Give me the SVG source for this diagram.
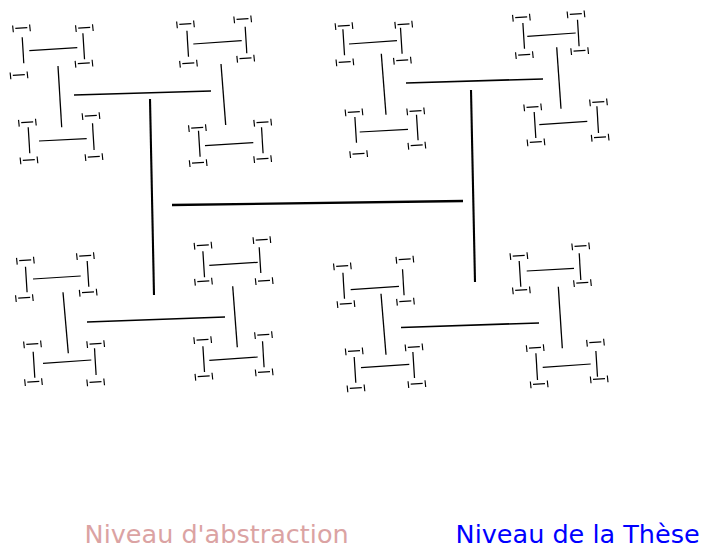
<svg xmlns="http://www.w3.org/2000/svg" xmlns:xlink="http://www.w3.org/1999/xlink" width="704" height="546" viewBox="0 0 704 546">
<style>
line{stroke:#000;stroke-linecap:butt;fill:none}
.l0{stroke-width:2.3}
.l1{stroke-width:2.1}
.l2{stroke-width:1.7}
.l3{stroke-width:1.3}
.l4{stroke-width:1.25}
.t line{stroke-width:1.15}
.lab{font-family:"DejaVu Sans",sans-serif;font-size:25.5px}
</style>
<defs>
<g id="t" class="t" transform="rotate(-3.5)">
<line x1="-8.5" y1="-3" x2="-8.2" y2="3.8"/>
<line x1="-6" y1="0" x2="6" y2="0"/>
<line x1="8.5" y1="-3" x2="8.8" y2="3.8"/>
</g>
</defs>
<rect width="704" height="546" fill="#fff"/>
<g id="connectors">
<g id="level0"><line class="l0" x1="172" y1="205" x2="463" y2="201"/></g>
<g id="level1">
<line class="l1" x1="150" y1="99" x2="154" y2="295"/>
<line class="l1" x1="471" y1="90" x2="475" y2="282"/>
</g>
<g id="level2">
<line class="l2" x1="74" y1="95" x2="211" y2="91"/>
<line class="l2" x1="406" y1="83" x2="543" y2="79"/>
<line class="l2" x1="87" y1="322" x2="225" y2="317"/>
<line class="l2" x1="401" y1="327.5" x2="539" y2="323"/>
</g>
<g id="level3">
<line class="l3" x1="58" y1="66" x2="61.7" y2="127.3"/>
<line class="l3" x1="221" y1="64" x2="225.7" y2="125"/>
<line class="l3" x1="381.3" y1="53.7" x2="386" y2="114.7"/>
<line class="l3" x1="556.7" y1="47.3" x2="561" y2="108.7"/>
<line class="l3" x1="63" y1="292.3" x2="68.3" y2="353.3"/>
<line class="l3" x1="232.7" y1="286.3" x2="237.3" y2="347.3"/>
<line class="l3" x1="381" y1="293.7" x2="386" y2="354.7"/>
<line class="l3" x1="558.3" y1="286.7" x2="562.3" y2="348.3"/>
</g>
</g>
<g id="B1"><line class="l4" x1="22.2" y1="37.3" x2="23.8" y2="63.3"/><line class="l4" x1="29.3" y1="50.7" x2="77.3" y2="47.7"/><line class="l4" x1="82.9" y1="33.3" x2="84.5" y2="59.3"/>
<use href="#t" x="21.3" y="28"/><use href="#t" x="84.2" y="27.7"/><use href="#t" x="18.8" y="75"/><use href="#t" x="83.8" y="63.3"/></g>
<g id="B2"><line class="l4" x1="28.2" y1="127.3" x2="29.8" y2="153.3"/><line class="l4" x1="39" y1="141" x2="86.7" y2="138.7"/><line class="l4" x1="92.5" y1="123.3" x2="94.1" y2="150"/>
<use href="#t" x="27.2" y="122.3"/><use href="#t" x="90.8" y="115.7"/><use href="#t" x="28.8" y="160"/><use href="#t" x="93.8" y="156.7"/></g>
<g id="B3"><line class="l4" x1="186.9" y1="30.7" x2="188.5" y2="56.7"/><line class="l4" x1="193.3" y1="44" x2="241.7" y2="40.7"/><line class="l4" x1="245.2" y1="26.7" x2="246.8" y2="53.3"/>
<use href="#t" x="185.3" y="24"/><use href="#t" x="242.5" y="19"/><use href="#t" x="188.3" y="63.3"/><use href="#t" x="245.5" y="58.3"/></g>
<g id="B4"><line class="l4" x1="198.5" y1="130.7" x2="200.1" y2="156.7"/><line class="l4" x1="205" y1="145.7" x2="253.3" y2="142.7"/><line class="l4" x1="261.5" y1="127.3" x2="263.1" y2="153.3"/>
<use href="#t" x="197.2" y="127.7"/><use href="#t" x="262.5" y="122.3"/><use href="#t" x="198" y="162.7"/><use href="#t" x="262.5" y="158.7"/></g>
<g id="B5"><line class="l4" x1="342.9" y1="29.3" x2="344.5" y2="55.3"/><line class="l4" x1="349" y1="44" x2="397" y2="40.7"/><line class="l4" x1="400.5" y1="27.7" x2="402.1" y2="53.7"/>
<use href="#t" x="343.8" y="25.7"/><use href="#t" x="403.5" y="24.3"/><use href="#t" x="344.7" y="62"/><use href="#t" x="402.2" y="60.3"/></g>
<g id="B6"><line class="l4" x1="354.9" y1="117" x2="356.5" y2="142.7"/><line class="l4" x1="359.7" y1="132" x2="408" y2="129.3"/><line class="l4" x1="416.5" y1="114.7" x2="418.1" y2="140.3"/>
<use href="#t" x="353.8" y="112"/><use href="#t" x="415.5" y="111"/><use href="#t" x="358.5" y="153.7"/><use href="#t" x="416.7" y="145.3"/></g>
<g id="B7"><line class="l4" x1="522.9" y1="23" x2="524.5" y2="48.7"/><line class="l4" x1="527.3" y1="36.3" x2="575.7" y2="33"/><line class="l4" x1="577.5" y1="19.7" x2="579.1" y2="46.3"/>
<use href="#t" x="521.2" y="17.3"/><use href="#t" x="575.8" y="14"/><use href="#t" x="524.2" y="54.7"/><use href="#t" x="579.5" y="50.7"/></g>
<g id="B8"><line class="l4" x1="534.2" y1="112" x2="535.8" y2="138"/><line class="l4" x1="539.3" y1="124.7" x2="587.3" y2="121.3"/><line class="l4" x1="596.9" y1="106.3" x2="598.5" y2="133"/>
<use href="#t" x="532.5" y="107"/><use href="#t" x="598.3" y="102"/><use href="#t" x="535.8" y="142"/><use href="#t" x="600" y="137.3"/></g>
<g id="B9"><line class="l4" x1="25.5" y1="266.7" x2="27.1" y2="292.3"/><line class="l4" x1="33" y1="279" x2="80.7" y2="276"/><line class="l4" x1="87.2" y1="261" x2="88.8" y2="286.7"/>
<use href="#t" x="25.2" y="260.3"/><use href="#t" x="85.2" y="255.7"/><use href="#t" x="24.2" y="297.7"/><use href="#t" x="88" y="292.3"/></g>
<g id="B10"><line class="l4" x1="33.2" y1="351.7" x2="34.8" y2="377.7"/><line class="l4" x1="43" y1="363.3" x2="91.3" y2="360"/><line class="l4" x1="94.5" y1="348.3" x2="96.1" y2="375"/>
<use href="#t" x="32.3" y="344"/><use href="#t" x="95.5" y="343.7"/><use href="#t" x="33.3" y="381.7"/><use href="#t" x="95.5" y="382"/></g>
<g id="B11"><line class="l4" x1="202.9" y1="251.3" x2="204.5" y2="277.3"/><line class="l4" x1="209.3" y1="265.3" x2="257.7" y2="262.3"/><line class="l4" x1="259.2" y1="247.3" x2="260.8" y2="273"/>
<use href="#t" x="202.8" y="245.3"/><use href="#t" x="261.7" y="239.7"/><use href="#t" x="203.3" y="281.3"/><use href="#t" x="264" y="280.7"/></g>
<g id="B12"><line class="l4" x1="202.9" y1="346.3" x2="204.5" y2="372"/><line class="l4" x1="209.3" y1="360.3" x2="257.7" y2="357"/><line class="l4" x1="262.5" y1="341.3" x2="264.1" y2="367.3"/>
<use href="#t" x="202.5" y="339.7"/><use href="#t" x="263.3" y="334.7"/><use href="#t" x="203.7" y="376.3"/><use href="#t" x="264" y="372"/></g>
<g id="B13"><line class="l4" x1="342.9" y1="272.7" x2="344.5" y2="298.7"/><line class="l4" x1="350.7" y1="289.7" x2="399" y2="286.3"/><line class="l4" x1="402.5" y1="269.3" x2="404.1" y2="295.3"/>
<use href="#t" x="342.2" y="266"/><use href="#t" x="404.7" y="259.3"/><use href="#t" x="345.8" y="303.7"/><use href="#t" x="405.3" y="301.3"/></g>
<g id="B14"><line class="l4" x1="354.2" y1="357" x2="355.8" y2="382.7"/><line class="l4" x1="361" y1="367.7" x2="409.3" y2="364.3"/><line class="l4" x1="412.9" y1="352" x2="414.5" y2="378"/>
<use href="#t" x="354" y="351"/><use href="#t" x="413.8" y="347"/><use href="#t" x="355.8" y="388"/><use href="#t" x="416.7" y="383.7"/></g>
<g id="B15"><line class="l4" x1="519.2" y1="261" x2="520.8" y2="286.7"/><line class="l4" x1="526.7" y1="271" x2="574" y2="268.3"/><line class="l4" x1="579.2" y1="253.3" x2="580.8" y2="280"/>
<use href="#t" x="518.7" y="255.7"/><use href="#t" x="580.5" y="246"/><use href="#t" x="521.2" y="290"/><use href="#t" x="582.3" y="282.7"/></g>
<g id="B16"><line class="l4" x1="535.9" y1="353.3" x2="537.5" y2="380"/><line class="l4" x1="542.7" y1="367.3" x2="590.7" y2="364"/><line class="l4" x1="595.9" y1="351" x2="597.5" y2="376.7"/>
<use href="#t" x="535" y="347.7"/><use href="#t" x="595.3" y="342.3"/><use href="#t" x="539" y="384"/><use href="#t" x="599" y="379"/></g>
<g id="labels">
<text class="lab" x="84.6" y="543.3" fill="#dba3a3">Niveau d'abstraction</text>
<text class="lab" x="455.6" y="543.3" fill="#0000ff">Niveau de la Thèse</text>
</g>
</svg>
